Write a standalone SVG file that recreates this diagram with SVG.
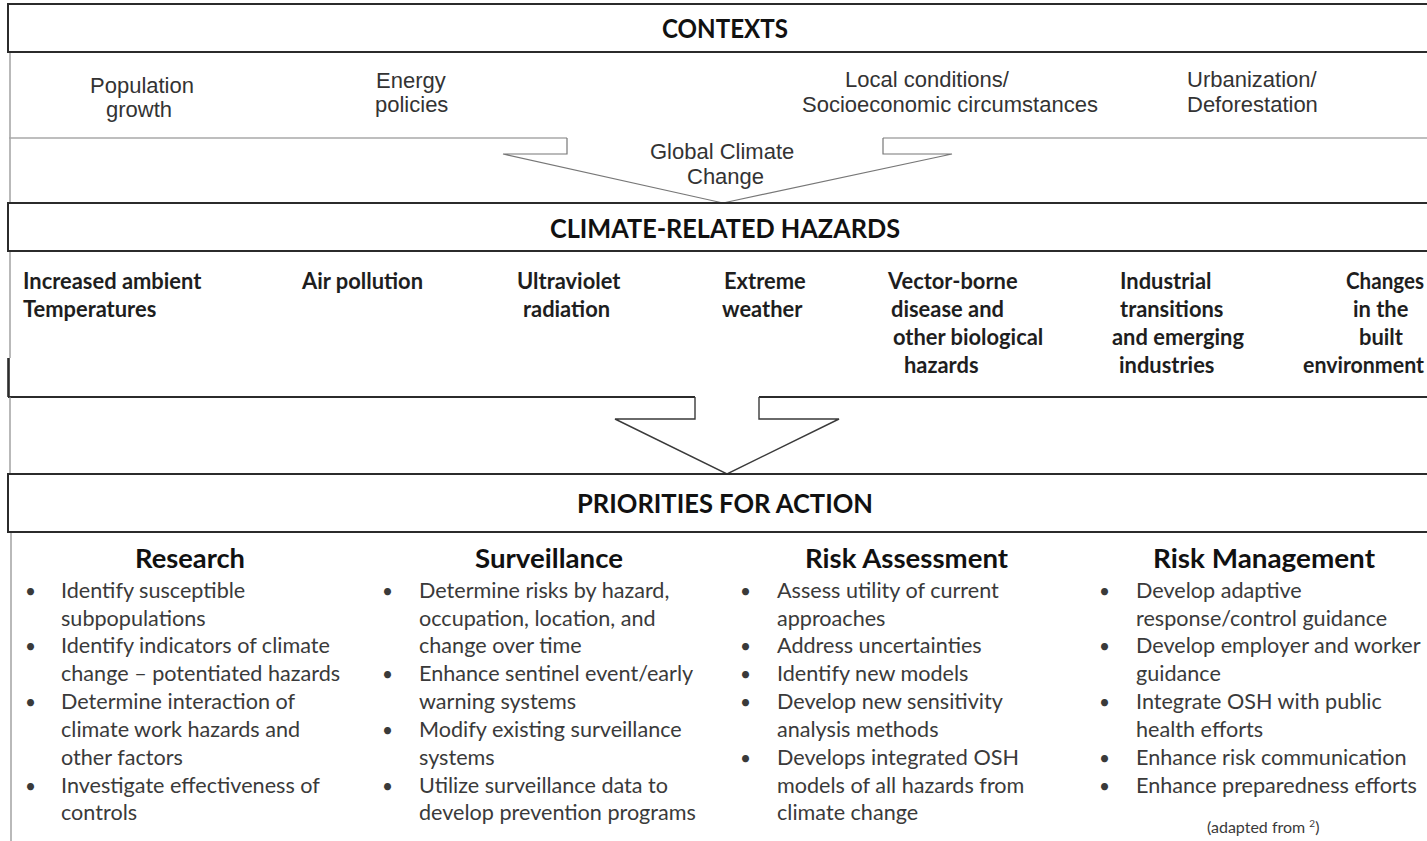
<svg xmlns="http://www.w3.org/2000/svg" width="1427" height="841" viewBox="0 0 1427 841">
<style>
.frame{fill:none;stroke:#2b2b2b;stroke-width:2}
.hdrbox{fill:#fff;stroke:#2b2b2b;stroke-width:2}
.thin{fill:none;stroke:#8a8a8a;stroke-width:1.2}
.light{fill:none;stroke:#a8a8a8;stroke-width:1.5}
.arrow{fill:#fff;stroke:#3a3a3a;stroke-width:1.4;stroke-linejoin:miter}
.arrow1{fill:#fff;stroke:#777;stroke-width:1.2}
.hdr{font-family:Lato,"Liberation Sans",sans-serif;font-weight:bold;font-size:26px;fill:#111}
.ctx{font-family:"Liberation Sans",Arial,sans-serif;font-size:22px;fill:#333}
.hz{font-family:Lato,"Liberation Sans",sans-serif;font-weight:bold;font-size:21.9px;fill:#1e1e1e}
.col{font-family:Lato,"Liberation Sans",sans-serif;font-weight:bold;font-size:26px;fill:#111}
.body{font-family:Lato,"Liberation Sans",sans-serif;font-size:21.6px;fill:#3a3a3a}
.bul{font-family:Lato,"Liberation Sans",sans-serif;font-size:19px;fill:#3a3a3a}
.note{font-family:Lato,"Liberation Sans",sans-serif;font-size:16px;fill:#3a3a3a}
</style>
<rect x="0" y="0" width="1427" height="841" fill="#fff"/>

<g id="frame">
  <line class="thin" x1="10" y1="52" x2="10" y2="203"/>
  <line class="light" x1="9" y1="138" x2="567" y2="138"/>
  <line class="light" x1="883" y1="138" x2="1427" y2="138"/>
  <line class="thin" x1="10" y1="251" x2="10" y2="358"/>
  <line stroke="#2b2b2b" stroke-width="2.6" x1="8.5" y1="358" x2="8.5" y2="397"/>
  <line class="frame" x1="8" y1="397" x2="695" y2="397"/>
  <line class="frame" x1="759" y1="397" x2="1427" y2="397"/>
  <line class="thin" x1="10" y1="397" x2="10" y2="474"/>
  <line class="thin" x1="11" y1="532" x2="11" y2="841"/>
</g>

<g id="connectors">
  <path class="arrow1" d="M567,138 V154 H503 L723,203 L952,154 H883 V138"/>
  <path class="arrow" d="M695,397 V419 H615 L727,474 L839,419 H759 V397"/>
</g>

<g id="contexts-header">
  <rect class="hdrbox" x="8" y="4" width="1430" height="48"/>
  <text class="hdr" x="662" y="38" textLength="126" lengthAdjust="spacingAndGlyphs">CONTEXTS</text>
</g>

<g id="ctx-population">
  <text class="ctx" x="90" y="93">Population</text>
  <text class="ctx" x="106" y="117">growth</text>
</g>
<g id="ctx-energy">
  <text class="ctx" x="376" y="88">Energy</text>
  <text class="ctx" x="375" y="112">policies</text>
</g>
<g id="ctx-local">
  <text class="ctx" x="845" y="87">Local conditions/</text>
  <text class="ctx" x="802" y="112">Socioeconomic circumstances</text>
</g>
<g id="ctx-urban">
  <text class="ctx" x="1187" y="87">Urbanization/</text>
  <text class="ctx" x="1187" y="112">Deforestation</text>
</g>
<g id="global-climate-change">
  <text class="ctx" x="650" y="159">Global Climate</text>
  <text class="ctx" x="687" y="184">Change</text>
</g>

<g id="hazards-header">
  <rect class="hdrbox" x="8" y="203" width="1430" height="48"/>
  <text class="hdr" x="550" y="238" textLength="350" lengthAdjust="spacingAndGlyphs">CLIMATE-RELATED HAZARDS</text>
</g>

<g id="hz-temp">
  <text class="hz" x="23" y="289">Increased ambient</text>
  <text class="hz" x="23" y="317">Temperatures</text>
</g>
<g id="hz-air">
  <text class="hz" x="302" y="289">Air pollution</text>
</g>
<g id="hz-uv">
  <text class="hz" x="517" y="289">Ultraviolet</text>
  <text class="hz" x="523" y="317">radiation</text>
</g>
<g id="hz-weather">
  <text class="hz" x="724" y="289">Extreme</text>
  <text class="hz" x="722" y="317">weather</text>
</g>
<g id="hz-vector">
  <text class="hz" x="888" y="289">Vector-borne</text>
  <text class="hz" x="891" y="317">disease and</text>
  <text class="hz" x="893" y="345">other biological</text>
  <text class="hz" x="904" y="373">hazards</text>
</g>
<g id="hz-industrial">
  <text class="hz" x="1120" y="289">Industrial</text>
  <text class="hz" x="1120" y="317">transitions</text>
  <text class="hz" x="1112" y="345">and emerging</text>
  <text class="hz" x="1119" y="373">industries</text>
</g>
<g id="hz-built">
  <text class="hz" x="1346" y="289" textLength="78" lengthAdjust="spacingAndGlyphs">Changes</text>
  <text class="hz" x="1353" y="317">in the</text>
  <text class="hz" x="1359" y="345">built</text>
  <text class="hz" x="1303" y="373" textLength="121" lengthAdjust="spacingAndGlyphs">environment</text>
</g>

<g id="priorities-header">
  <rect class="hdrbox" x="8" y="474" width="1430" height="58"/>
  <text class="hdr" x="577" y="513" textLength="296" lengthAdjust="spacingAndGlyphs">PRIORITIES FOR ACTION</text>
</g>

<g id="research">
  <text class="col" x="135" y="568" textLength="110" lengthAdjust="spacingAndGlyphs">Research</text>
  <text class="bul" x="25" y="598">•</text><text class="body" x="61" y="598">Identify susceptible</text>
  <text class="body" x="61" y="626">subpopulations</text>
  <text class="bul" x="25" y="653">•</text><text class="body" x="61" y="653">Identify indicators of climate</text>
  <text class="body" x="61" y="681">change – potentiated hazards</text>
  <text class="bul" x="25" y="709">•</text><text class="body" x="61" y="709">Determine interaction of</text>
  <text class="body" x="61" y="737">climate work hazards and</text>
  <text class="body" x="61" y="765">other factors</text>
  <text class="bul" x="25" y="793">•</text><text class="body" x="61" y="793">Investigate effectiveness of</text>
  <text class="body" x="61" y="820">controls</text>
</g>

<g id="surveillance">
  <text class="col" x="475" y="568" textLength="148" lengthAdjust="spacingAndGlyphs">Surveillance</text>
  <text class="bul" x="382" y="598">•</text><text class="body" x="419" y="598">Determine risks by hazard,</text>
  <text class="body" x="419" y="626">occupation, location, and</text>
  <text class="body" x="419" y="653">change over time</text>
  <text class="bul" x="382" y="681">•</text><text class="body" x="419" y="681">Enhance sentinel event/early</text>
  <text class="body" x="419" y="709">warning systems</text>
  <text class="bul" x="382" y="737">•</text><text class="body" x="419" y="737">Modify existing surveillance</text>
  <text class="body" x="419" y="765">systems</text>
  <text class="bul" x="382" y="793">•</text><text class="body" x="419" y="793">Utilize surveillance data to</text>
  <text class="body" x="419" y="820">develop prevention programs</text>
</g>

<g id="risk-assessment">
  <text class="col" x="805" y="568" textLength="203" lengthAdjust="spacingAndGlyphs">Risk Assessment</text>
  <text class="bul" x="740" y="598">•</text><text class="body" x="777" y="598">Assess utility of current</text>
  <text class="body" x="777" y="626">approaches</text>
  <text class="bul" x="740" y="653">•</text><text class="body" x="777" y="653">Address uncertainties</text>
  <text class="bul" x="740" y="681">•</text><text class="body" x="777" y="681">Identify new models</text>
  <text class="bul" x="740" y="709">•</text><text class="body" x="777" y="709">Develop new sensitivity</text>
  <text class="body" x="777" y="737">analysis methods</text>
  <text class="bul" x="740" y="765">•</text><text class="body" x="777" y="765">Develops integrated OSH</text>
  <text class="body" x="777" y="793">models of all hazards from</text>
  <text class="body" x="777" y="820">climate change</text>
</g>

<g id="risk-management">
  <text class="col" x="1153" y="568" textLength="222" lengthAdjust="spacingAndGlyphs">Risk Management</text>
  <text class="bul" x="1099" y="598">•</text><text class="body" x="1136" y="598">Develop adaptive</text>
  <text class="body" x="1136" y="626">response/control guidance</text>
  <text class="bul" x="1099" y="653">•</text><text class="body" x="1136" y="653">Develop employer and worker</text>
  <text class="body" x="1136" y="681">guidance</text>
  <text class="bul" x="1099" y="709">•</text><text class="body" x="1136" y="709">Integrate OSH with public</text>
  <text class="body" x="1136" y="737">health efforts</text>
  <text class="bul" x="1099" y="765">•</text><text class="body" x="1136" y="765">Enhance risk communication</text>
  <text class="bul" x="1099" y="793">•</text><text class="body" x="1136" y="793">Enhance preparedness efforts</text>
</g>

<g id="note">
  <text class="note" x="1207" y="833">(adapted from <tspan font-size="10" dy="-6">2</tspan><tspan dy="6">)</tspan></text>
</g>
</svg>
